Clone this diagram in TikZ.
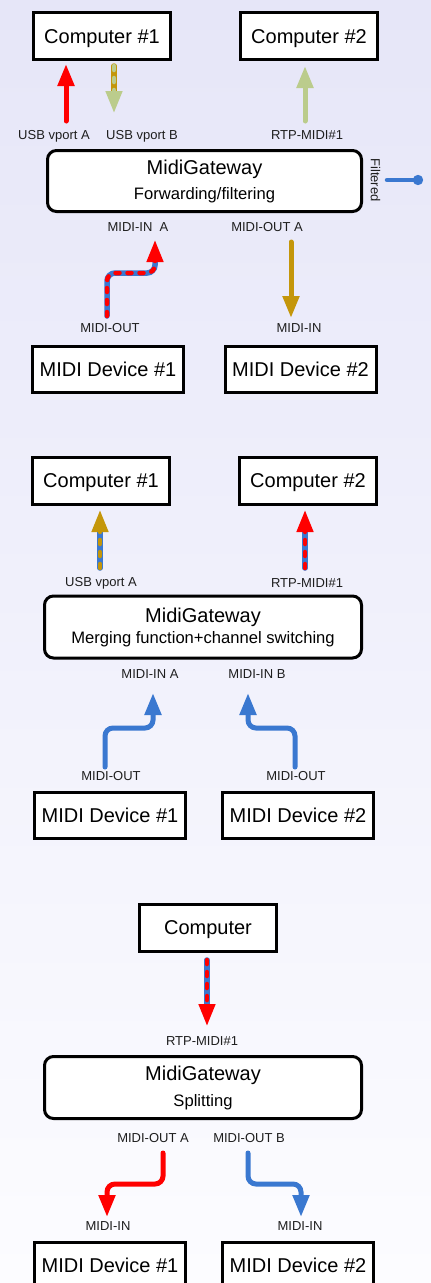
\documentclass[tikz,border=0pt]{standalone}
\usepackage{fontspec}
\setmainfont{Liberation Sans}
\usetikzlibrary{arrows.meta}
\definecolor{mred}{HTML}{FF0000}
\definecolor{mblue}{HTML}{3A78D0}
\definecolor{mgold}{HTML}{C4960A}
\definecolor{mgreen}{HTML}{BBCC8C}
\definecolor{bgtop}{HTML}{E6E6F8}
\definecolor{bgbot}{HTML}{FCFCFF}
\definecolor{lbltext}{HTML}{1E1E1E}
\tikzset{
  box/.style={draw=black, line width=3pt, fill=white, minimum width=137pt, minimum height=47pt, inner sep=0pt, text height=14.3pt, text depth=0pt, font=\fontsize{20}{24}\selectfont},
  mdbox/.style={box, minimum width=151pt, minimum height=46pt},
  gwbox/.style={draw=black, line width=3pt, fill=white, rounded corners=9pt, minimum width=317pt, minimum height=62pt, inner sep=0pt, align=center, font=\fontsize{16.6}{25}\selectfont},
  lbl/.style={font=\fontsize{13}{15}\selectfont, text=lbltext, inner sep=0pt},
  conn/.style={line width=5pt, line cap=round, rounded corners=8pt, -{Triangle[width=16pt,length=22pt]}},
  baseline/.style={line width=5.5pt, line cap=round, rounded corners=8pt, shorten >=20pt},
  dashover/.style={line width=4.5pt, line cap=round, rounded corners=8pt, dash pattern=on 4pt off 8pt, -{Triangle[width=16pt,length=22pt]}}
}
\newcommand{\dualconn}[3]{%
  \draw[baseline, draw=#1] #3;
  \draw[dashover, draw=#2] #3;}
\begin{document}
\begin{tikzpicture}[x=1pt,y=-1pt]
\useasboundingbox (0,0) rectangle (431,1283);
\clip (0,0) rectangle (431,1283);
\shade[top color=bgtop, bottom color=bgbot] (0,0) rectangle (431,1283);

% ---------------- Panel 1 ----------------
\node[box] (ac1) at (102,36) {Computer \#1};
\node[box] (ac2) at (309,36) {Computer \#2};
\node[gwbox, minimum width=314pt, minimum height=61pt] (agw) at (204.5,181)
  {{\fontsize{20}{24}\selectfont MidiGateway}\\Forwarding/filtering};
\node[mdbox] (amd1) at (108,369.5) {MIDI Device \#1};
\node[mdbox] (amd2) at (300.5,369.5) {MIDI Device \#2};

\node[lbl] (alusba) at (54,136) {USB vport A};
\node[lbl] (alusbb) at (142,136) {USB vport B};
\node[lbl] (alrtp) at (307,135) {RTP-MIDI\#1};
\node[lbl, rotate=-90] (alfilt) at (375.5,180) {Filtered};
\node[lbl] (almidiina) at (138,227) {MIDI-IN\ \ A};
\node[lbl] (almidiouta) at (267,227) {MIDI-OUT A};
\node[lbl] (almout) at (110,328) {MIDI-OUT};
\node[lbl] (almin) at (299,328) {MIDI-IN};

\coordinate (a1s) at (66,121);  \coordinate (a1e) at (66,64);
\coordinate (a2s) at (114,66);  \coordinate (a2e) at (114,113);
\coordinate (a3s) at (305,121); \coordinate (a3e) at (305,66);
\coordinate (a4s) at (107,316); \coordinate (a4m1) at (107,273);
\coordinate (a4m2) at (155,273); \coordinate (a4e) at (155,240);
\coordinate (a5s) at (291,242); \coordinate (a5e) at (291,318);
\coordinate (afs) at (387,180); \coordinate (afe) at (423,180);

\draw[conn, draw=mred] (a1s) -- (a1e);
\dualconn{mgold}{mgreen}{(a2s) -- (a2e)}
\draw[conn, draw=mgreen] (a3s) -- (a3e);
\dualconn{mblue}{mred}{(a4s) -- (a4m1) -- (a4m2) -- (a4e)}
\draw[conn, draw=mgold] (a5s) -- (a5e);
\draw[line width=4.5pt, line cap=round, draw=mblue, -{Circle[length=10pt]}] (afs) -- (afe);

% ---------------- Panel 2 ----------------
\node[box] (bc1) at (101,480.5) {Computer \#1};
\node[box] (bc2) at (308,480.5) {Computer \#2};
\node[gwbox] (bgw) at (203,627)
  {{\fontsize{20}{24}\selectfont MidiGateway}\\[-4pt]Merging function+channel switching};
\node[mdbox] (bmd1) at (110,815) {MIDI Device \#1};
\node[mdbox] (bmd2) at (298,815) {MIDI Device \#2};

\node[lbl] (blusba) at (101,583) {USB vport A};
\node[lbl] (blrtp) at (307,583) {RTP-MIDI\#1};
\node[lbl] (blina) at (150,674) {MIDI-IN A};
\node[lbl] (blinb) at (257,674) {MIDI-IN B};
\node[lbl] (blout1) at (111,776) {MIDI-OUT};
\node[lbl] (blout2) at (296,776) {MIDI-OUT};

\coordinate (b1s) at (100,568); \coordinate (b1e) at (100,510);
\coordinate (b2s) at (305,568); \coordinate (b2e) at (305,510);
\coordinate (b3s) at (105,767); \coordinate (b3m1) at (105,728);
\coordinate (b3m2) at (153,728); \coordinate (b3e) at (153,693);
\coordinate (b4s) at (295,767); \coordinate (b4m1) at (295,728);
\coordinate (b4m2) at (248,728); \coordinate (b4e) at (248,693);

\dualconn{mblue}{mgold}{(b1s) -- (b1e)}
\dualconn{mblue}{mred}{(b2s) -- (b2e)}
\draw[conn, draw=mblue] (b3s) -- (b3m1) -- (b3m2) -- (b3e);
\draw[conn, draw=mblue] (b4s) -- (b4m1) -- (b4m2) -- (b4e);

% ---------------- Panel 3 ----------------
\node[box] (cc) at (208,927.5) {Computer};
\node[gwbox] (cgw) at (203,1087.5)
  {{\fontsize{20}{24}\selectfont MidiGateway}\\[1pt]Splitting};
\node[mdbox] (cmd1) at (110,1265.5) {MIDI Device \#1};
\node[mdbox] (cmd2) at (298,1265.5) {MIDI Device \#2};

\node[lbl] (clrtp) at (202,1041) {RTP-MIDI\#1};
\node[lbl] (clouta) at (153,1138) {MIDI-OUT A};
\node[lbl] (cloutb) at (249,1138) {MIDI-OUT B};
\node[lbl] (clin1) at (108,1226) {MIDI-IN};
\node[lbl] (clin2) at (300,1226) {MIDI-IN};

\coordinate (c1s) at (207,960); \coordinate (c1e) at (207,1026);
\coordinate (c2s) at (163,1153); \coordinate (c2m1) at (163,1184);
\coordinate (c2m2) at (107,1184); \coordinate (c2e) at (107,1217);
\coordinate (c3s) at (248,1153); \coordinate (c3m1) at (248,1184);
\coordinate (c3m2) at (301,1184); \coordinate (c3e) at (301,1217);

\dualconn{mblue}{mred}{(c1s) -- (c1e)}
\draw[conn, draw=mred] (c2s) -- (c2m1) -- (c2m2) -- (c2e);
\draw[conn, draw=mblue] (c3s) -- (c3m1) -- (c3m2) -- (c3e);
\end{tikzpicture}
\end{document}
